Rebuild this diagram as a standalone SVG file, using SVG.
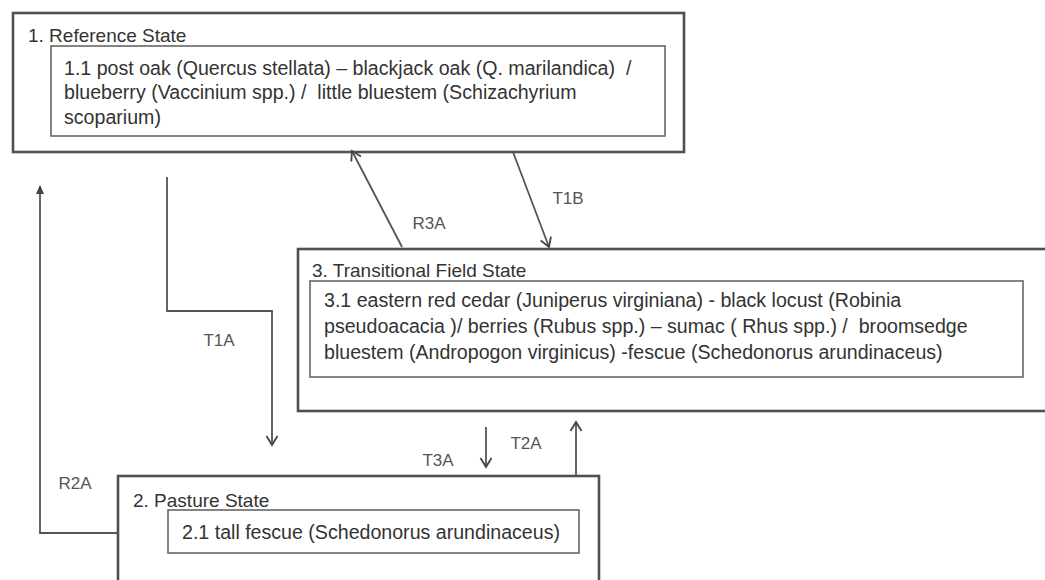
<svg xmlns="http://www.w3.org/2000/svg" width="1045" height="580" viewBox="0 0 1045 580">
<defs>
<style>
.outer{fill:#fff;stroke:#505050;stroke-width:2.6}
.inner{fill:#fff;stroke:#666;stroke-width:1.6}
.t{font-family:"Liberation Sans",Arial,sans-serif;font-size:19.6px;fill:#333;white-space:pre}
.h{font-family:"Liberation Sans",Arial,sans-serif;font-size:19px;fill:#333;white-space:pre}
.lbl{font-family:"Liberation Sans",Arial,sans-serif;font-size:17px;fill:#555}
.conn{fill:none;stroke:#555;stroke-width:1.8}
.open{marker-end:url(#openHead)}
</style>
<marker id="openHead" viewBox="0 0 12 12" markerWidth="12" markerHeight="12" refX="10" refY="6" orient="auto" markerUnits="userSpaceOnUse" overflow="visible">
<path d="M1,0.5 L10,6 L1,11.5" fill="none" stroke="#444" stroke-width="1.8"/>
</marker>
<marker id="solidHead" viewBox="0 0 10 10" markerWidth="9" markerHeight="9" refX="9" refY="5" orient="auto" markerUnits="userSpaceOnUse">
<path d="M0,0.5 L10,5 L0,9.5 Z" fill="#444"/>
</marker>
</defs>
<rect width="1045" height="580" fill="#fff"/>

<g id="node-reference-state">
<rect class="outer" x="13" y="13" width="671" height="139"/>
<text class="h" x="28" y="42">1. Reference State</text>
<rect class="inner" x="51" y="46" width="614" height="90"/>
<text class="t" x="64" y="75" xml:space="preserve">1.1 post oak (Quercus stellata) – blackjack oak (Q. marilandica)  /</text>
<text class="t" x="64" y="99" xml:space="preserve">blueberry (Vaccinium spp.) /  little bluestem (Schizachyrium</text>
<text class="t" x="64" y="124">scoparium)</text>
</g>

<g id="node-transitional-field-state">
<rect class="outer" x="298" y="249" width="770" height="162"/>
<text class="h" x="312" y="277">3. Transitional Field State</text>
<rect class="inner" x="310" y="281" width="713" height="96"/>
<text class="t" x="324" y="307">3.1 eastern red cedar (Juniperus virginiana) - black locust (Robinia</text>
<text class="t" x="324" y="333" xml:space="preserve">pseudoacacia )/ berries (Rubus spp.) – sumac ( Rhus spp.) /  broomsedge</text>
<text class="t" x="324" y="359">bluestem (Andropogon virginicus) -fescue (Schedonorus arundinaceus)</text>
</g>

<g id="node-pasture-state">
<rect class="outer" x="118" y="476" width="481" height="130"/>
<text class="h" x="133" y="507">2. Pasture State</text>
<rect class="inner" x="168" y="510" width="411" height="43"/>
<text class="t" x="182" y="539">2.1 tall fescue (Schedonorus arundinaceus)</text>
</g>

<g id="connectors">
<path class="conn open" d="M167,177 V311 H272 V445"/>
<text class="lbl" x="219" y="346" text-anchor="middle">T1A</text>
<path class="conn" d="M118,533 H40 V186" marker-end="url(#solidHead)"/>
<text class="lbl" x="75" y="489" text-anchor="middle">R2A</text>
<path class="conn open" d="M402,247 L352,151"/>
<text class="lbl" x="429" y="229" text-anchor="middle">R3A</text>
<path class="conn open" d="M513,152 L549,247"/>
<text class="lbl" x="568" y="204" text-anchor="middle">T1B</text>
<path class="conn open" d="M486,427 V467"/>
<text class="lbl" x="438" y="466" text-anchor="middle">T3A</text>
<path class="conn open" d="M576,475 V422"/>
<text class="lbl" x="526" y="449" text-anchor="middle">T2A</text>
</g>
</svg>
